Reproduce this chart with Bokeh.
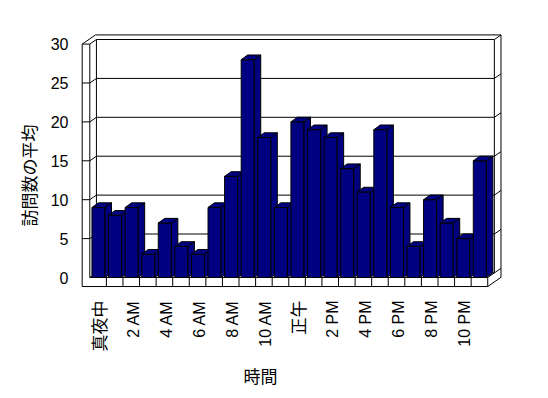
from bokeh.plotting import figure
from bokeh.models import Range1d, ColumnDataSource
from bokeh.core.properties import value
from bokeh.embed import file_html
from bokeh.resources import INLINE

# ---------------- data ----------------
hours = list(range(24))
visits = [9, 8, 9, 3, 7, 4, 3, 9, 13, 28, 18, 9, 20, 19, 18, 14, 11, 19, 9, 4, 10, 7, 5, 15]
y_ticks = [0, 5, 10, 15, 20, 25, 30]
y_tick_labels = ["0", "5", "10", "15", "20", "25", "30"]
hour_label_pos = [0, 2, 4, 6, 8, 10, 12, 14, 16, 18, 20, 22]
hour_labels = ["真夜中", "2 AM", "4 AM", "6 AM", "8 AM", "10 AM",
               "正午", "2 PM", "4 PM", "6 PM", "8 PM", "10 PM"]
x_title = "時間"
y_title = "訪問数の平均"

# ---------------- layout / 3D geometry (data units) ----------------
N = len(visits)
VMAX = y_ticks[-1]
DX, DY = 0.40, 0.59        # depth offset of the back wall
WALL = 0.46                # left wall thickness
FLOOR = 1.16               # floor thickness
BAR_OFF, BAR_W = 0.13, 0.79
BAR_DX, BAR_DY = 0.39, 0.60

W, H = 540, 390
p = figure(width=W, height=H, output_backend="svg", toolbar_location=None,
           x_range=Range1d(-5.386, 27.183), y_range=Range1d(-14.524, 35.604),
           x_axis_location=None, y_axis_location=None, min_border=0)
p.grid.visible = False
p.outline_line_color = None
p.background_fill_color = "white"
p.border_fill_color = "white"

# ---------------- frame lines ----------------
xs, ys = [], []
def seg(pts):
    xs.append([q[0] for q in pts])
    ys.append([q[1] for q in pts])

for v in y_ticks:
    if v > 0:
        seg([(-WALL, v), (0, v)])
    seg([(0, v), (DX, v + DY), (N + DX, v + DY), (N + 2 * DX, v + 2 * DY)])

seg([(0, VMAX), (0, 0), (N, 0), (N, -FLOOR), (-WALL, -FLOOR), (-WALL, VMAX),
     (-WALL + 2 * DX, VMAX + 2 * DY), (N + 2 * DX, VMAX + 2 * DY),
     (N + 2 * DX, -FLOOR + 2 * DY), (N, -FLOOR)])
seg([(N, 0), (N + DX, DY)])
seg([(N + DX, DY), (N + DX, VMAX + DY)])
seg([(DX, DY), (DX, VMAX + DY)])
for i in range(1, N):
    seg([(i, -FLOOR), (i, 0)])

p.multi_line(xs=xs, ys=ys, line_color="black", line_width=1)

# ---------------- 3D bars ----------------
bx, by = [], []
for h, v in zip(hours, visits):
    x0 = h + BAR_OFF
    x1 = x0 + BAR_W
    # front
    bx.append([x0, x1, x1, x0]); by.append([0, 0, v, v])
    # side
    bx.append([x1, x1 + BAR_DX, x1 + BAR_DX, x1]); by.append([0, BAR_DY, v + BAR_DY, v])
    # top
    bx.append([x0, x1, x1 + BAR_DX, x0 + BAR_DX]); by.append([v, v, v + BAR_DY, v + BAR_DY])
p.patches(xs=bx, ys=by, fill_color="#000080", line_color="black", line_width=1)

# ---------------- texts ----------------
font = value("Liberation Sans, Noto Sans CJK JP")
p.text(x=[-1.285] * len(y_ticks), y=y_ticks, text=y_tick_labels,
       text_align="right", text_baseline="middle", text_font=font,
       text_font_size="16px", text_color="black")

label_src = ColumnDataSource(dict(
    x=[h + 0.62 for h in hour_label_pos],
    y=[-2.96] * len(hour_label_pos),
    text=hour_labels,
    size=["17px" if any(ord(c) > 255 for c in t) else "16px" for t in hour_labels],
))
p.text(x="x", y="y", text="text", source=label_src, angle=1.5708,
       text_align="right", text_baseline="middle", text_font=font,
       text_font_size="size", text_color="black")

p.text(x=[10.30], y=[-12.6], text=[x_title], text_align="center",
       text_baseline="middle", text_font=value("Noto Sans CJK JP"),
       text_font_size="17px", text_color="black")
p.text(x=[-3.70], y=[13.1], text=[y_title], angle=1.5708, text_align="center",
       text_baseline="middle", text_font=value("Noto Sans CJK JP"),
       text_font_size="17px", text_color="black")

open("out.html", "w").write(file_html(p, INLINE))
